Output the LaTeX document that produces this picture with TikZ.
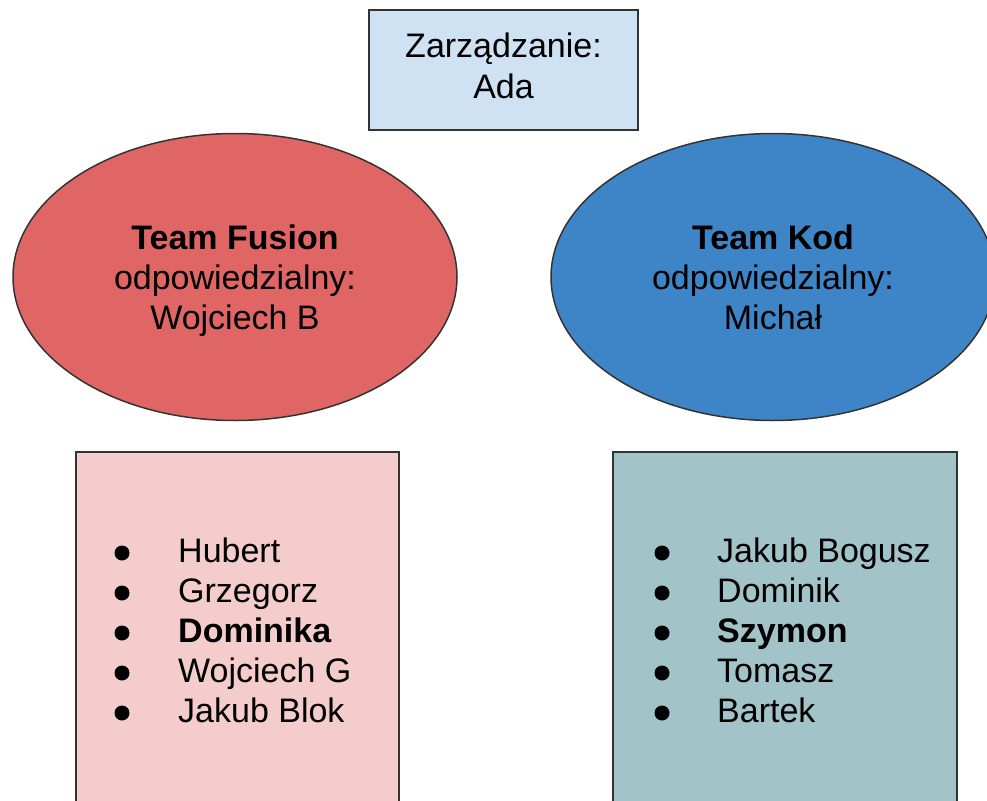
\documentclass[tikz,border=0pt]{standalone}
\usepackage{fontspec}
\setmainfont{Liberation Sans}
\usepackage{xcolor}
\usetikzlibrary{positioning,shapes.geometric}

\definecolor{zarzad}{HTML}{CFE2F3}
\definecolor{fusion}{HTML}{E06666}
\definecolor{kod}{HTML}{3D85C6}
\definecolor{fusionlight}{HTML}{F4CCCC}
\definecolor{kodlight}{HTML}{A2C4C9}
\definecolor{edge}{HTML}{333333}

\newcommand{\topstrut}{\rule{0pt}{36pt}}

\begin{document}
\begin{tikzpicture}[
    x=1pt, y=-1pt,
    bigfont/.style={font=\fontsize{34}{40}\selectfont},
    board/.style={rectangle, draw=edge, line width=1.5pt, fill=zarzad,
                  minimum width=269pt, minimum height=120pt, inner sep=0pt,
                  align=center, bigfont},
    team/.style={ellipse, draw=edge, line width=1.5pt, inner sep=0pt,
                 minimum width=444pt, minimum height=287pt,
                 align=center, bigfont},
    members/.style={rectangle, draw=edge, line width=1.5pt, anchor=north west,
                    minimum height=400pt, inner sep=0pt},
    member/.style={anchor=base west, inner sep=0pt, bigfont},
    dot/.style={circle, fill=black, inner sep=0pt, minimum size=15pt}
]
\useasboundingbox (0,0) rectangle (987,800);
\clip (0,0) rectangle (987,800);

% management
\node[board] (zarzad) at (503.5,70) {\strut Zarządzanie:\\Ada\strut};

% teams
\node[team, fill=fusion] (fusion) at (235,277)
    {\topstrut\textbf{Team Fusion}\\odpowiedzialny:\\Wojciech B\strut};
\node[team, fill=kod] (kod) at (773,277)
    {\topstrut\textbf{Team Kod}\\odpowiedzialny:\\Michał\strut};

% member boxes
\node[members, fill=fusionlight, minimum width=323pt] (fusbox) at (75,451) {};
\node[members, fill=kodlight, minimum width=344pt] (kodbox) at (612,451) {};

% member lists
\foreach \name [count=\i] in {Hubert, Grzegorz, \textbf{Dominika}, Wojciech G, Jakub Blok} {
    \node[dot] (fusdot-\i) at (122,{513+40*\i}) {};
    \node[member] (fus-\i) at (178,{522+40*\i}) {\name};
}
\foreach \name [count=\i] in {Jakub Bogusz, Dominik, \textbf{Szymon}, Tomasz, Bartek} {
    \node[dot] (koddot-\i) at (662,{513+40*\i}) {};
    \node[member] (kod-\i) at (717,{522+40*\i}) {\name};
}

\end{tikzpicture}
\end{document}
